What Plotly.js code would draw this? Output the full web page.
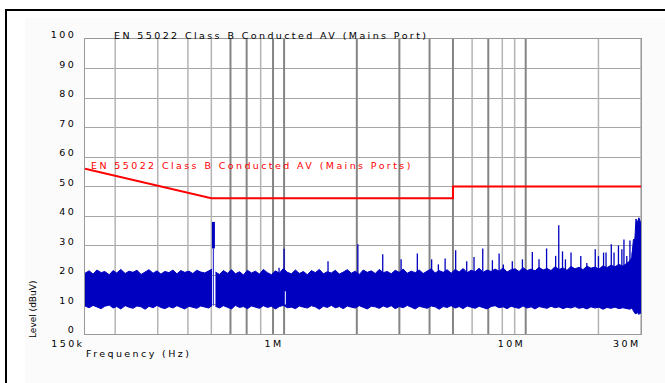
<!DOCTYPE html>
<html>
<head>
<meta charset="utf-8">
<script src="https://cdn.plot.ly/plotly-3.0.1.min.js"></script>
<style>
  html, body { margin: 0; padding: 0; background: #fff; }
  #chart { width: 665px; height: 383px; }
  .xtick text, .ytick text, .annotation-text { letter-spacing: 2.4px; }
</style>
</head>
<body>
<div id="chart"></div>
<script>
// ---- data ----
// Limit line (EN 55022 Class B AV), Hz / dBuV
const limitFreq = [150e3, 500e3, 5e6, 5e6, 30e6];
const limitLevel = [56, 46, 46, 50, 50];

// Noise band, segment below the 500 kHz emission (kHz)
const bandFreqA = [150,156,162,168,175,181,189,196,203,211,
  220,228,237,246,256,266,276,287,298,309,
  321,334,347,360,374,388,404,419,435,452,
  470,488,503];
const bandTopA = [20.6,21.4,20.3,21.7,20.8,21.2,20.1,21.5,20.7,21.9,
  20.5,21.3,20.9,21.6,20.2,21.1,21.8,20.6,21.4,20.3,
  21.2,20.8,21.7,20.4,21.5,20.9,21.3,20.5,21.6,21.0,
  20.7,21.4,22.0];
const bandBotA = [9.5,8.9,9.7,9.1,8.6,9.4,9.8,8.8,9.3,8.5,
  9.6,9.1,8.7,9.5,9.2,8.4,9.4,8.9,9.7,9.0,
  8.6,9.3,8.8,9.6,9.1,8.5,9.4,9.0,8.7,9.5,
  9.2,8.8,9.6];

// Noise band, segment above the 500 kHz emission (kHz)
const bandFreqB = [520,540,561,583,606,629,654,679,705,733,
  761,791,821,853,886,921,956,993,1032,1072,
  1114,1157,1202,1248,1297,1347,1399,1454,1510,1569,
  1630,1693,1758,1827,1897,1971,2048,2127,2209,2295,
  2384,2477,2573,2673,2776,2884,2996,3112,3233,3358,
  3489,3624,3765,3911,4062,4220,4384,4554,4730,4914,
  5105,5303,5508,5722,5944,6175,6414,6663,6922,7190,
  7469,7759,8060,8373,8698,9035,9386,9750,10128,10521,
  10929,11354,11794,12252,12727,13221,13734,14267,14821,15396,
  15993,16614,17258,17928,18623,19346,20096,20876,21686,22528,
  23402,24310,25253,26233,27000,27500,27900,28300,28600,29000,
  29400,29700,30000];
const bandTopB = [21.0,20.2,21.5,20.6,21.8,20.4,21.1,20.0,21.6,20.7,
  21.3,20.3,21.9,20.8,20.1,21.4,20.6,22.2,20.9,20.4,
  21.7,20.5,21.2,20.1,21.5,20.8,21.9,20.4,21.1,20.7,
  21.6,20.3,21.0,21.8,20.6,21.3,20.2,21.7,20.9,21.4,
  20.5,21.9,20.8,21.2,20.4,21.6,20.9,22.0,20.6,21.3,
  20.8,21.7,20.5,21.4,22.1,20.7,21.5,20.9,21.8,20.6,
  21.9,21.0,22.2,20.8,21.6,21.1,22.3,20.9,21.7,21.2,
  22.0,21.3,22.4,21.0,21.8,22.1,21.2,22.5,21.5,22.0,
  21.4,22.6,21.7,22.2,21.5,22.8,21.9,22.4,21.6,22.9,
  22.1,22.6,21.8,23.0,22.3,22.7,22.0,23.1,22.5,23.3,
  22.8,23.6,23.0,24.0,24.8,26.0,32.0,32.3,39.0,37.8,
  39.4,38.5,37.0];
const bandBotB = [9.4,8.8,9.6,9.1,8.5,9.7,9.0,9.3,8.6,9.5,
  9.2,8.7,9.6,9.0,9.4,8.5,9.3,9.7,8.9,9.1,
  8.6,9.5,9.1,8.8,9.6,9.2,8.4,9.4,9.0,9.7,
  8.9,9.3,8.6,9.5,9.1,8.8,9.6,9.0,8.5,9.4,
  9.2,8.7,9.5,9.0,9.6,8.6,9.3,8.9,9.7,9.1,
  8.5,9.4,9.0,8.7,9.5,9.2,8.4,9.3,9.0,9.6,
  8.8,9.3,8.6,9.5,9.1,8.7,9.4,9.0,8.5,9.3,
  9.6,8.9,9.2,8.6,9.4,9.0,8.7,9.5,8.8,9.2,
  8.5,9.3,9.0,8.7,9.4,8.9,9.2,8.6,9.1,8.8,
  9.3,8.7,9.0,8.5,9.2,8.8,9.1,8.4,9.0,8.7,
  9.1,8.6,8.9,8.7,8.4,8.8,7.6,7.0,6.8,7.3,
  6.6,7.1,7.0];

// Narrow spikes rising out of the band (Hz, peak dBuV)
const spikeFreq = [0.953e6,1.0e6,1.52e6,2.02e6,2.56e6,3.05e6,3.56e6,4.08e6,4.35e6,4.64e6,
  5.13e6,5.70e6,6.11e6,6.64e6,7.28e6,7.76e6,8.08e6,8.80e6,9.69e6,10.65e6,
  11.35e6,12.2e6,13.3e6,13.7e6,14.2e6,14.6e6,15.4e6,16.9e6,17.9e6,19.4e6,
  20.0e6,21.0e6,21.5e6,22.6e6,23.2e6,24.2e6,25.0e6,25.5e6,26.2e6,27.0e6,27.6e6];
const spikePeak = [22.5,28.9,24.7,30.4,27.0,25.3,27.3,25.3,23.6,25.6,
  28.4,24.7,26.1,29.0,25.0,27.3,23.6,24.7,25.3,27.8,
  25.3,29.0,26.5,36.9,28.0,25.3,27.6,26.4,24.1,28.7,
  26.4,27.6,27.6,30.4,27.6,30.0,28.7,32.0,26.4,31.7,27.6];

// The 500 kHz emission: thin stem and thick head
const burstFreq = 510e3;
const burstStem = [9.6, 29];
const burstHead = [29, 38];

// Narrow drop-out in the band near 1 MHz
const dropFreq = 1.012e6;
const dropLevels = [10, 14.5];

// Grid frequencies (Hz)
const gridDark = [600e3,700e3,900e3,1e6,2e6,3e6,4e6,5e6,7e6,10e6];
const gridLight = [200e3,300e3,400e3,500e3,800e3,6e6,8e6,9e6,20e6,30e6];

// Tick labels
const xTickVals = [150e3, 1e6, 10e6, 30e6];
const xTickText = ['150k', '1M', '10M', '30M'];

// ---- build traces ----
const kHz = a => a.map(v => v * 1e3);
function vlines(freqs, y0, y1) {
  const x = [], y = [];
  freqs.forEach(f => { x.push(f, f, null); y.push(y0, y1, null); });
  return {x, y};
}
function spikes(freqs, peaks, base) {
  const x = [], y = [];
  freqs.forEach((f, i) => { x.push(f, f, null); y.push(base, peaks[i], null); });
  return {x, y};
}
const BLUE = '#0000c0';
const gd = vlines(gridDark, 0, 100);
const gl = vlines(gridLight, 0, 100);
const sp = spikes(spikeFreq, spikePeak, 20);

const traces = [
  {x: gl.x, y: gl.y, mode: 'lines', line: {color: '#b4b4b4', width: 1.5}, hoverinfo: 'skip'},
  {x: gd.x, y: gd.y, mode: 'lines', line: {color: '#858585', width: 2}, hoverinfo: 'skip'},
  {x: kHz(bandFreqA), y: bandBotA, mode: 'lines', line: {color: BLUE, width: 1}},
  {x: kHz(bandFreqA), y: bandTopA, mode: 'lines', line: {color: BLUE, width: 1}, fill: 'tonexty', fillcolor: BLUE},
  {x: kHz(bandFreqB), y: bandBotB, mode: 'lines', line: {color: BLUE, width: 1}},
  {x: kHz(bandFreqB), y: bandTopB, mode: 'lines', line: {color: BLUE, width: 1}, fill: 'tonexty', fillcolor: BLUE},
  {x: sp.x, y: sp.y, mode: 'lines', line: {color: BLUE, width: 1.3}},
  {x: [burstFreq, burstFreq], y: burstStem, mode: 'lines', line: {color: '#3a3ad8', width: 1.2}},
  {x: [burstFreq, burstFreq], y: burstHead, mode: 'lines', line: {color: BLUE, width: 3}},
  {x: [dropFreq, dropFreq], y: dropLevels, mode: 'lines', line: {color: '#ffffff', width: 1}},
  {x: limitFreq, y: limitLevel, mode: 'lines', line: {color: '#ff0000', width: 2}}
];

// pixel helpers for paper coordinates (plot area 85..641 x, 39..334 y)
const L = 85, R = 641, T = 39, B = 334;
const px = v => (v - L) / (R - L);
const py = v => (B - v) / (B - T);
const FONT = 'DejaVu Sans, Liberation Sans, sans-serif';

const layout = {
  width: 665, height: 383,
  margin: {l: L, r: 665 - R, t: T, b: 383 - B},
  paper_bgcolor: '#ffffff',
  plot_bgcolor: '#ffffff',
  showlegend: false,
  font: {family: FONT, size: 9.5, color: '#000'},
  xaxis: {
    type: 'log',
    range: [Math.log10(150e3), Math.log10(30e6)],
    tickvals: xTickVals, ticktext: xTickText,
    ticks: '', showgrid: false, zeroline: false,
    showline: true, linecolor: '#999999', linewidth: 1, mirror: true,
    ticklabelposition: 'outside left',
    ticklabelstandoff: 1,
    tickfont: {family: FONT, size: 9.5, color: '#000'}
  },
  yaxis: {
    range: [0, 100], dtick: 10, tick0: 0,
    ticks: '', showgrid: true, gridcolor: '#a6a6a6', gridwidth: 1,
    zeroline: false, showline: true, linecolor: '#999999', linewidth: 1, mirror: true,
    ticklabelshift: -4, ticklabelstandoff: 6,
    tickfont: {family: FONT, size: 9.5, color: '#000'}
  },
  shapes: [
    {type: 'rect', xref: 'paper', yref: 'paper', x0: px(25), x1: px(665), y0: py(383), y1: py(18),
     fillcolor: '#fbfbfb', line: {width: 0}, layer: 'below'},
    {type: 'rect', xref: 'paper', yref: 'paper', x0: 0, x1: 1, y0: 0, y1: 1,
     fillcolor: '#ffffff', line: {width: 0}, layer: 'below'},
    {type: 'line', xref: 'paper', yref: 'paper', x0: px(5), x1: px(665), y0: py(10), y1: py(10),
     line: {color: '#000', width: 2}},
    {type: 'line', xref: 'paper', yref: 'paper', x0: px(6), x1: px(6), y0: py(383), y1: py(10),
     line: {color: '#000', width: 2}}
  ],
  annotations: [
    {text: 'EN 55022 Class B Conducted AV (Mains Port)', xref: 'paper', yref: 'paper',
     x: px(112), y: py(35), xanchor: 'left', yanchor: 'middle', showarrow: false,
     font: {family: FONT, size: 9.5, color: '#000'}},
    {text: 'EN 55022 Class B Conducted AV (Mains Ports)', xref: 'paper', yref: 'paper',
     x: px(89), y: py(165), xanchor: 'left', yanchor: 'middle', showarrow: false,
     font: {family: FONT, size: 9.5, color: '#ff0000'}},
    {text: 'Frequency (Hz)', xref: 'paper', yref: 'paper',
     x: px(84), y: py(353), xanchor: 'left', yanchor: 'middle', showarrow: false,
     font: {family: FONT, size: 9.5, color: '#000'}},
    {text: '<span style="letter-spacing:0px">Level (dBuV)</span>', xref: 'paper', yref: 'paper',
     x: px(33), y: py(310), xanchor: 'center', yanchor: 'middle', textangle: -90, showarrow: false,
     font: {family: FONT, size: 9, color: '#000'}}
  ]
};

Plotly.newPlot('chart', traces, layout, {displayModeBar: false, staticPlot: true});
</script>
</body>
</html>
